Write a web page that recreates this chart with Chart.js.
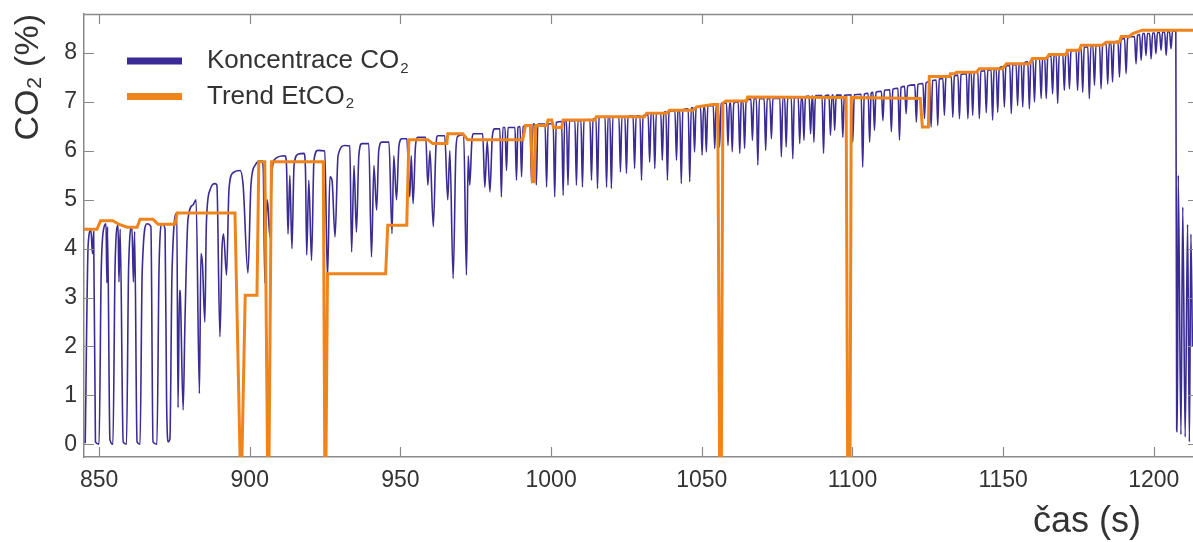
<!DOCTYPE html>
<html>
<head>
<meta charset="utf-8">
<script src="https://cdn.jsdelivr.net/npm/chart.js@4.4.1/dist/chart.umd.min.js"></script>
<style>
    html, body { margin: 0; padding: 0; background: #ffffff; }
    #wrap { width: 1193px; height: 542px; }
</style>
</head>
<body>
<div id="wrap"><canvas id="co2-chart" width="1193" height="542"></canvas></div>
<script>
// axis ticks
const xTicks = [850, 900, 950, 1000, 1050, 1100, 1150, 1200];
const yTicks = [0, 1, 2, 3, 4, 5, 6, 7, 8];

const seriesLabels = ['Koncentrace CO₂', 'Trend EtCO₂'];

// CO2 concentration [time s, %]
const co2Samples = [
    [845.4,0.02],[846.4,4.1],[847.3,4.38],[847.8,3.9],[848.2,4.35],[848.8,0.05],[850.0,0.0],
    [850.7,3.5],[851.7,4.45],[852.3,4.51],[852.6,3.3],[852.8,4.45],[853.6,0.1],[854.6,0.0],
    [855.3,3.6],[856.3,4.48],[856.6,3.32],[857.0,4.4],[858.0,0.05],[859.1,0.0],
    [859.8,3.6],[860.9,4.45],[861.4,3.32],[861.8,4.35],[862.6,0.05],[863.6,0.0],
    [864.3,3.5],[865.9,4.51],[867.2,4.45],[867.9,0.05],[869.2,0.0],
    [869.9,3.6],[870.9,4.51],[871.9,4.4],[872.4,0.9],[872.9,0.05],[873.5,0.1],
    [874.2,3.5],[875.8,4.72],[876.2,0.75],[876.7,3.15],[877.0,3.0],[877.9,0.7],[878.5,2.5],
    [879.5,4.6],[881.2,4.9],[882.2,5.0],[883.3,1.04],[883.8,3.9],[884.3,3.7],[885.1,2.5],
    [885.6,4.5],[886.8,5.2],[888.5,5.33],[889.1,5.3],[890.1,2.2],[890.8,4.0],[891.3,4.3],
    [892.3,3.46],[893.1,5.2],[894.4,5.55],[896.8,5.6],[897.8,5.3],[899.4,3.5],[900.4,5.3],
    [901.7,5.7],[904.1,5.8],[904.5,5.6],[905.0,3.3],[905.7,5.0],[906.0,4.9],[906.7,4.24],
    [907.4,5.6],[908.7,5.85],[911.7,5.9],[912.2,5.7],[912.7,4.3],[913.3,5.5],[914.0,4.0],
    [914.7,5.7],[916.0,5.93],[918.0,5.95],[918.5,5.6],[918.9,3.87],[919.6,5.4],[920.5,3.76],
    [921.3,5.8],[922.6,6.01],[924.9,6.0],[925.8,3.4],[926.6,5.47],[927.3,5.4],[928.3,4.24],
    [929.3,5.9],[931.6,6.11],[933.2,6.1],[933.8,3.93],[934.6,5.7],[935.4,4.34],[936.2,5.9],
    [937.2,6.15],[939.5,6.15],[940.4,3.83],[941.2,5.7],[942.1,4.79],[942.8,6.0],[943.8,6.18],
    [946.2,6.18],[947.2,4.31],[947.8,5.9],[948.7,5.0],[949.5,6.1],[950.5,6.25],[952.1,6.25],
    [953.1,5.06],[953.6,5.9],[954.2,4.92],[955.0,6.1],[955.8,6.28],[958.4,6.28],[959.1,5.3],
    [959.8,6.0],[960.9,4.45],[961.8,6.1],[962.4,6.31],[964.7,6.31],[965.7,5.0],[966.4,6.0],
    [967.5,3.39],[968.4,6.0],[969.0,6.3],[971.0,6.33],[971.9,3.46],[972.5,5.9],[973.0,5.3],
    [973.7,6.2],[974.3,6.35],[977.3,6.35],[978.0,5.26],[978.8,6.2],[979.7,5.16],[980.5,6.3],
    [981.3,6.45],[983.0,6.45],
    [983.5,5.06],[984.0,6.48],[984.7,6.48],[985.2,5.60],[985.7,6.48],
    [988.0,6.48],[988.5,5.40],[989.0,6.48],[989.7,6.5],[990.2,5.47],[990.7,6.5],
    [993.0,6.52],[993.5,5.37],[994.0,6.55],[994.6,6.55],[995.1,5.30],[995.6,6.55],
    [998.0,6.55],[998.5,5.26],[999.0,6.55],[1000.7,6.56],[1001.2,5.06],[1001.7,6.58],
    [1003.5,6.6],[1004.0,5.09],[1004.5,6.62],[1005.1,6.62],[1005.6,5.30],[1006.1,6.62],
    [1007.9,6.62],[1008.4,5.30],[1008.9,6.62],[1009.9,6.62],[1010.4,5.26],[1010.9,6.63],
    [1012.9,6.64],[1013.4,5.40],[1013.9,6.65],[1014.9,6.66],[1015.4,5.23],[1015.9,6.68],
    [1017.9,6.7],[1018.4,5.26],[1018.9,6.7],[1019.5,6.7],[1020.0,5.23],[1020.5,6.7],
    [1022.5,6.7],[1023.0,5.57],[1023.5,6.7],[1024.5,6.7],[1025.0,5.54],[1025.5,6.7],
    [1027.2,6.72],[1027.7,5.64],[1028.2,6.72],[1029.5,6.72],[1030.0,5.40],[1030.5,6.72],
    [1032.2,6.74],[1032.7,5.77],[1033.2,6.76],[1033.9,6.78],[1034.4,5.64],[1034.9,6.78],
    [1036.4,6.78],[1036.9,5.81],[1037.4,6.78],[1038.1,6.8],[1038.6,5.40],[1039.1,6.8],
    [1041.1,6.82],[1041.6,5.81],[1042.1,6.82],[1042.7,6.83],[1043.2,5.33],[1043.7,6.84],
    [1045.5,6.86],[1046.0,5.37],[1046.5,6.88],[1047.1,6.88],[1047.6,5.98],[1048.1,6.9],
    [1049.6,6.9],[1050.1,5.91],[1050.6,6.9],[1051.0,6.9],[1051.5,5.98],[1052.0,6.92],
    [1053.8,6.93],[1054.3,6.05],[1054.8,6.95],[1055.4,6.95],[1055.9,6.08],[1056.4,6.97],
    [1058.2,6.98],[1058.7,6.11],[1059.2,6.98],[1059.6,6.98],[1060.1,5.98],[1060.6,6.98],
    [1062.1,7.0],[1062.6,5.95],[1063.1,7.0],[1063.7,7.02],[1064.2,6.05],[1064.7,7.04],
    [1066.3,7.06],[1066.8,6.22],[1067.3,7.07],[1068.1,7.07],[1068.6,5.71],[1069.1,7.07],
    [1070.7,7.07],[1071.2,6.01],[1071.7,7.07],[1072.6,7.07],[1073.1,6.25],[1073.6,7.07],
    [1075.9,7.08],[1076.4,5.88],[1076.9,7.08],[1077.5,7.08],[1078.0,6.08],[1078.5,7.08],
    [1079.7,7.09],[1080.2,5.84],[1080.7,7.09],[1082.0,7.1],[1082.5,6.15],[1083.0,7.1],
    [1083.4,7.1],[1083.9,6.22],[1084.4,7.11],[1085.6,7.12],[1086.1,6.35],[1086.6,7.12],
    [1086.8,7.12],[1087.2,6.18],[1087.7,7.13],[1089.9,7.13],[1090.4,5.95],[1090.9,7.13],
    [1092.2,7.14],[1092.7,6.32],[1093.2,7.14],[1093.6,7.14],[1094.1,6.42],[1094.6,7.14],
    [1096.3,7.14],[1096.8,6.28],[1097.3,7.14],[1099.6,7.15],[1100.1,6.18],[1100.6,7.15],
    [1102.9,7.16],[1103.4,5.67],[1103.9,7.16],[1105.2,7.18],[1105.7,6.18],[1106.2,7.18],
    [1106.8,7.2],[1107.3,6.42],[1107.8,7.2],[1109.6,7.22],[1110.1,6.62],[1110.6,7.24],
    [1112.4,7.25],[1112.9,6.39],[1113.4,7.26],[1115.1,7.28],[1115.6,6.22],[1116.1,7.3],
    [1117.3,7.32],[1117.8,6.76],[1118.3,7.33],[1120.7,7.35],[1121.2,6.59],[1121.7,7.36],
    [1123.4,7.38],[1123.9,6.66],[1124.4,7.39],[1125.6,7.42],[1126.1,6.49],[1126.6,7.44],
    [1127.8,7.45],[1128.3,6.52],[1128.8,7.47],[1130.0,7.48],[1130.5,6.73],[1131.0,7.5],
    [1132.8,7.52],[1133.3,6.69],[1133.8,7.53],[1135.0,7.55],[1135.5,6.66],[1136.0,7.56],
    [1137.8,7.58],[1138.3,6.66],[1138.8,7.59],[1139.4,7.6],[1139.9,6.73],[1140.4,7.6],
    [1141.6,7.62],[1142.1,6.66],[1142.6,7.63],[1143.9,7.64],[1144.4,6.78],[1144.9,7.65],
    [1146.0,7.66],[1146.5,6.63],[1147.0,7.67],[1147.7,7.68],[1148.2,6.79],[1148.7,7.7],
    [1149.9,7.72],[1150.4,6.90],[1150.9,7.74],[1152.2,7.75],[1152.7,6.76],[1153.2,7.76],
    [1154.3,7.77],[1154.8,6.93],[1155.3,7.78],[1156.0,7.79],[1156.5,6.90],[1157.0,7.8],
    [1158.2,7.82],[1158.7,6.86],[1159.2,7.84],[1159.9,7.86],[1160.4,7.00],[1160.9,7.87],
    [1162.1,7.88],[1162.6,7.07],[1163.1,7.89],[1163.8,7.9],[1164.3,7.07],[1164.8,7.92],
    [1165.9,7.94],[1166.4,7.17],[1166.9,7.95],[1167.6,7.96],[1168.1,6.97],[1168.6,7.97],
    [1169.8,7.98],[1170.3,7.24],[1170.8,8.0],[1171.5,8.02],[1172.0,7.27],[1172.5,8.04],
    [1174.2,8.06],[1174.7,7.24],[1175.2,8.08],[1175.9,8.1],[1176.4,7.20],[1176.9,8.12],
    [1178.1,8.13],[1178.6,7.07],[1179.1,8.14],[1179.8,8.14],[1180.3,7.34],[1180.8,8.15],
    [1182.0,8.16],[1182.5,7.27],[1183.0,8.17],[1184.2,8.19],[1184.7,7.37],[1185.2,8.2],
    [1185.8,8.2],[1186.3,7.41],[1186.8,8.22],[1188.1,8.24],[1188.6,7.51],[1189.1,8.27],
    [1190.3,8.3],[1190.8,7.58],[1191.3,8.31],[1193.6,8.34],[1194.1,7.78],[1194.6,8.36],
    [1195.3,8.38],[1195.8,7.85],[1196.3,8.4],[1196.9,8.4],[1197.4,7.95],[1197.9,8.4],
    [1198.6,8.4],[1199.1,7.88],[1199.6,8.41],[1200.2,8.41],[1200.7,7.99],[1201.2,8.42],
    [1201.9,8.42],[1202.4,8.06],[1202.9,8.43],[1203.6,8.43],[1204.1,7.95],[1204.6,8.44],
    [1205.2,8.44],[1205.7,8.09],[1206.2,8.45],[1207.3,8.45],
    [1207.6,0.3],[1207.8,0.25],[1208.1,5.5],[1209.0,0.2],[1209.6,4.85],[1210.4,0.15],
    [1211.2,4.5],[1211.8,0.05],[1212.3,4.3],[1212.8,2.0]
];

// end-tidal trend [time s, %]
const trendSamples = [
    [845,4.40],[849.3,4.40],[850.5,4.57],[854.6,4.57],[856.5,4.50],[859.3,4.44],[862.6,4.44],
    [863.6,4.60],[867.9,4.60],[869.6,4.50],[875.2,4.50],[875.9,4.73],[895.1,4.73],
    [896.8,-0.3],[897.4,-0.3],[898.5,3.05],[902.4,3.05],[903.0,5.78],[905.0,5.78],
    [905.9,-0.3],[906.4,-0.3],[907.2,5.78],[924.4,5.78],[924.9,-0.3],[925.3,-0.3],
    [925.8,3.49],[945.1,3.49],[945.8,4.48],[952.1,4.48],[952.8,6.23],[959.1,6.23],
    [960.7,6.15],[965.4,6.15],[965.7,6.35],[970.7,6.35],[972.3,6.23],[990.6,6.23],
    [991.5,6.52],[993.3,6.52],[993.8,5.37],[994.4,5.37],[994.9,6.52],[998.5,6.52],
    [999.0,6.63],[1000.2,6.63],[1000.8,6.48],[1003.5,6.48],[1004.0,6.63],[1014.5,6.63],
    [1015.0,6.70],[1031.0,6.70],[1031.7,6.77],[1038.3,6.77],[1039.3,6.83],[1047.0,6.83],
    [1048.3,6.90],[1053.6,6.95],[1055.3,6.95],[1055.9,-0.3],[1056.5,-0.3],[1057.0,6.98],
    [1058.0,7.02],[1064.9,7.02],[1065.2,7.10],[1097.9,7.09],[1098.4,-0.3],[1099.2,-0.3],
    [1099.6,7.09],[1122.5,7.07],[1123.2,6.49],[1125.2,6.49],[1125.5,7.52],[1132.2,7.52],
    [1132.5,7.58],[1133.8,7.58],[1134.5,7.61],[1141.1,7.61],[1142.1,7.68],[1149.7,7.68],
    [1151.1,7.78],[1158.7,7.78],[1159.7,7.89],[1164.3,7.89],[1165.3,7.97],[1170.9,7.97],
    [1171.3,8.06],[1175.3,8.06],[1175.9,8.16],[1182.9,8.16],[1184.2,8.22],[1188.5,8.22],
    [1189.2,8.34],[1191.8,8.34],[1193.0,8.40],[1196.2,8.47],[1213,8.47]
];

const FONT = "'Liberation Sans', Arial, Helvetica, sans-serif";
const TEXT = '#333333';
const AXIS = '#8a8a8a';
const BLUE = '#3b2c95';
const ORANGE = '#f0841c';

Chart.defaults.font.family = FONT;
Chart.defaults.color = TEXT;

function drawLabel(ctx, text, x, y, size) {
    // trailing ₂ drawn as a real lowered small 2
    const base = text.replace('₂', '');
    ctx.font = size + 'px ' + FONT;
    ctx.fillText(base, x, y);
    if (text.endsWith('₂')) {
        const w = ctx.measureText(base).width;
        ctx.font = Math.round(size * 0.58) + 'px ' + FONT;
        ctx.fillText('2', x + w + 1, y + size * 0.3);
    }
}

const framePlugin = {
    id: 'frame',
    afterDraw(chart) {
        const { ctx, chartArea: a, scales: { x, y } } = chart;
        ctx.save();
        ctx.strokeStyle = AXIS;
        ctx.lineWidth = 1.5;
        ctx.beginPath();
        ctx.moveTo(a.left, a.top + 0.5);
        ctx.lineTo(a.right, a.top + 0.5);
        ctx.stroke();

        ctx.lineWidth = 1.2;
        ctx.beginPath();
        xTicks.forEach(v => {
            const px = Math.round(x.getPixelForValue(v)) + 0.5;
            ctx.moveTo(px, a.bottom); ctx.lineTo(px, a.bottom - 10);
            ctx.moveTo(px, a.top); ctx.lineTo(px, a.top + 10);
        });
        yTicks.forEach(v => {
            const py = Math.round(y.getPixelForValue(v)) + 0.5;
            ctx.moveTo(a.left, py); ctx.lineTo(a.left + 10, py);
            ctx.moveTo(a.right - 5, py); ctx.lineTo(a.right, py);
        });
        ctx.stroke();

        // legend
        const colors = [BLUE, ORANGE];
        const rows = [61, 96.5];
        ctx.lineWidth = 7;
        seriesLabels.forEach((label, i) => {
            ctx.strokeStyle = colors[i];
            ctx.beginPath();
            ctx.moveTo(127, rows[i]);
            ctx.lineTo(182, rows[i]);
            ctx.stroke();
            ctx.fillStyle = TEXT;
            ctx.textAlign = 'left';
            ctx.textBaseline = 'middle';
            drawLabel(ctx, label, 207, rows[i], 26);
        });

        // x axis title
        ctx.fillStyle = TEXT;
        ctx.textAlign = 'right';
        ctx.textBaseline = 'middle';
        ctx.font = '36px ' + FONT;
        ctx.fillText('čas (s)', 1141, 522);
        ctx.restore();
    }
};

new Chart(document.getElementById('co2-chart'), {
    type: 'line',
    data: {
        datasets: [{
            label: seriesLabels[0],
            data: co2Samples.map(p => ({ x: p[0], y: p[1] })),
            borderColor: BLUE,
            borderWidth: 1.6,
            pointRadius: 0,
            cubicInterpolationMode: 'monotone',
            order: 2
        }, {
            label: seriesLabels[1],
            data: trendSamples.map(p => ({ x: p[0], y: p[1] })),
            borderColor: ORANGE,
            borderWidth: 3,
            pointRadius: 0,
            tension: 0,
            order: 1
        }]
    },
    options: {
        responsive: false,
        animation: false,
        events: [],
        layout: { padding: { top: 14, right: 0, bottom: 0, left: 0 } },
        plugins: {
            legend: { display: false },
            tooltip: { enabled: false }
        },
        scales: {
            x: {
                type: 'linear',
                min: 845,
                max: 1213,
                afterBuildTicks: s => { s.ticks = xTicks.map(v => ({ value: v })); },
                afterFit: s => { s.height = 85; s.paddingLeft = 0; s.paddingRight = 0; },
                grid: { display: false, drawTicks: false },
                border: { display: true, color: AXIS, width: 1.5 },
                ticks: {
                    font: { size: 23 }, color: TEXT, padding: 10, maxRotation: 0, autoSkip: false,
                    callback: v => String(v)
                }
            },
            y: {
                type: 'linear',
                min: -0.26,
                max: 8.8,
                afterBuildTicks: s => { s.ticks = yTicks.map(v => ({ value: v })); },
                afterFit: s => { s.width = 84; s.paddingTop = 0; s.paddingBottom = 0; },
                grid: { display: false, drawTicks: false },
                border: { display: true, color: AXIS, width: 1.5 },
                ticks: { font: { size: 23 }, color: TEXT, padding: 7, callback: v => String(v) },
                title: {
                    display: true,
                    text: 'CO₂ (%)',
                    align: 'end',
                    font: { size: 34 },
                    color: TEXT,
                    padding: { top: 8, bottom: 0 }
                }
            }
        }
    },
    plugins: [framePlugin]
});
</script>
</body>
</html>
